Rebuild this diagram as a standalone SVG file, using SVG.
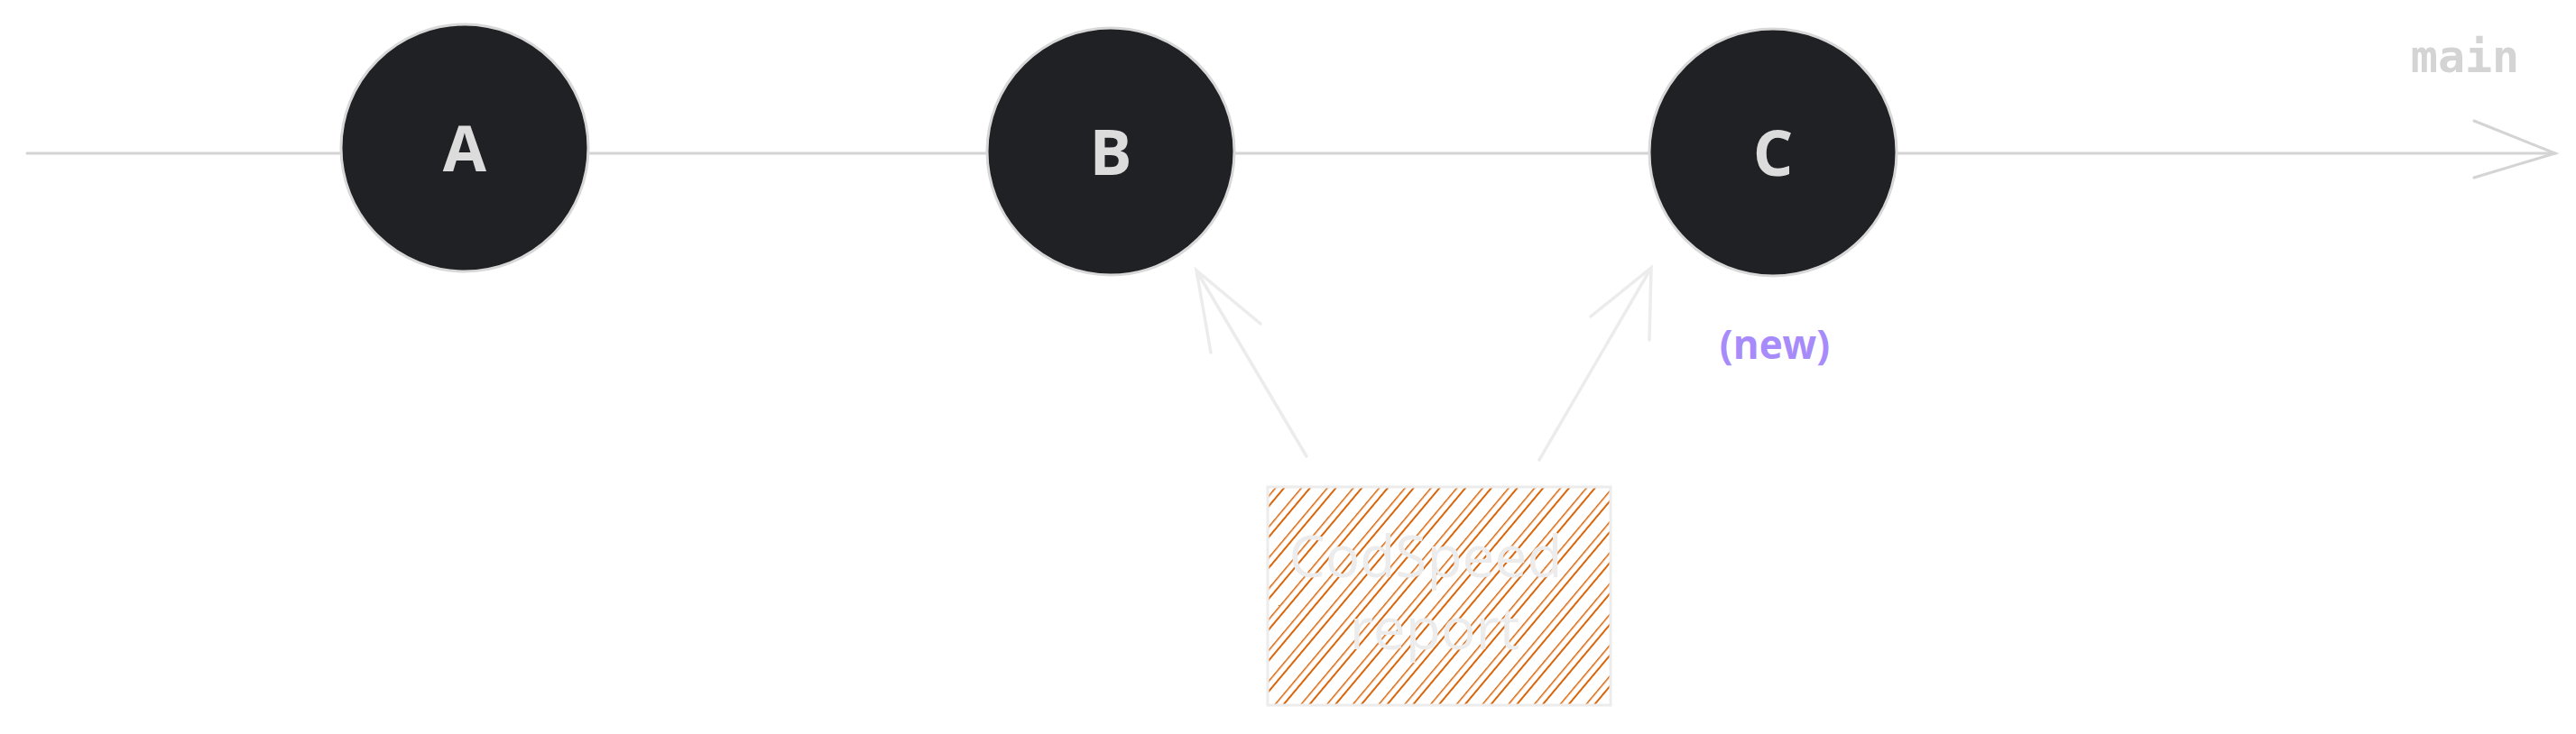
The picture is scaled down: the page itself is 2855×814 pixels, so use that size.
<svg xmlns="http://www.w3.org/2000/svg" width="2855" height="814" viewBox="0 0 2855 814">
<style>
.ln{stroke:#d4d4d4;stroke-width:3;fill:none;stroke-linecap:round}
.ar{stroke:#ececec;stroke-width:3.5;fill:none;stroke-linecap:round}
.node{fill:#202124;stroke:#d8d8d8;stroke-width:3}
.lbl{font-family:"Comic Sans MS","Open Sans",sans-serif;font-weight:bold;font-size:70px;fill:#dcdcdc;text-anchor:middle}
</style>
<defs>
<pattern id="h" width="22" height="22" patternUnits="userSpaceOnUse" patternTransform="rotate(40)">
<line x1="0" y1="0" x2="0" y2="22" stroke="#d9650a" stroke-width="3"/>
<line x1="8" y1="0" x2="8" y2="22" stroke="#d9650a" stroke-width="2"/>
</pattern>
</defs>
<rect width="2855" height="814" fill="#fff"/>
<g id="connectors">
<path class="ln" d="M30 170 H2832"/>
<path class="ln" d="M2742 134 L2832 170 L2742 197"/>
<path class="ar" d="M1448 506 L1326 300 M1397 359 L1326 300 L1342 391"/>
<path class="ar" d="M1706 510 L1830 297 M1763 351 L1830 297 L1828 377"/>
</g>
<g id="nodeA"><circle class="node" cx="515" cy="164" r="137"/><text class="lbl" x="515" y="190">A</text></g>
<g id="nodeB"><circle class="node" cx="1231" cy="168" r="137"/><text class="lbl" x="1231" y="194">B</text></g>
<g id="nodeC"><circle class="node" cx="1965" cy="169" r="137"/><text class="lbl" x="1965" y="195">C</text>
<text x="1967" y="398" font-family="'Comic Sans MS','Open Sans',sans-serif" font-weight="bold" font-size="44" fill="#a78bfa" text-anchor="middle">(new)</text></g>
<g id="main"><text x="2732" y="80" font-family="'DejaVu Sans Mono',monospace" font-weight="bold" font-size="50" fill="#d4d4d4" text-anchor="middle">main</text></g>
<g id="report">
<rect x="1405" y="540" width="380" height="242" fill="url(#h)" stroke="#ececec" stroke-width="3"/>
<text font-family="'Comic Sans MS','Open Sans',sans-serif" font-size="64" fill="#ececec" text-anchor="middle"><tspan x="1580" y="640">CodSpeed</tspan><tspan x="1590" y="720">report</tspan></text>
</g>
</svg>
